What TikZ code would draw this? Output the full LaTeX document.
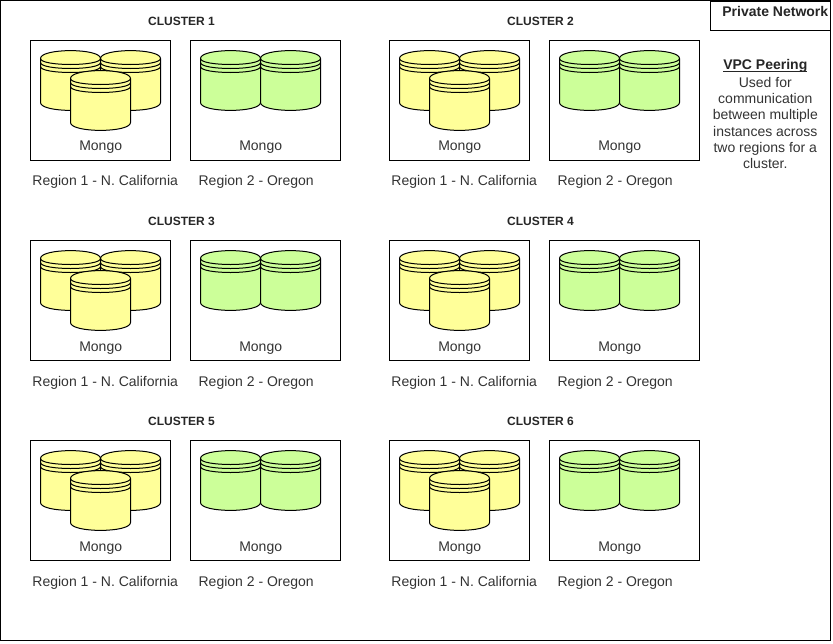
\documentclass[tikz,border=0pt]{standalone}
\usepackage{fontspec}
\setmainfont{Liberation Sans}
\definecolor{replicaYellow}{HTML}{FFFF99}
\definecolor{replicaGreen}{HTML}{CCFF99}
\definecolor{labelGray}{HTML}{333333}
\tikzset{
    regionbox/.style={draw=black, line width=1pt, minimum height=120pt, inner sep=0pt},
    mongolabel/.style={text=labelGray, font=\fontsize{14}{16}\selectfont, inner sep=0pt},
    clustertitle/.style={text=black!85, font=\fontsize{12}{14}\selectfont\bfseries, inner sep=0pt},
    datastore/.pic={
        \path[pic actions] (0,8) .. controls (0,-2.5) and (60,-2.5) .. (60,8)
            -- (60,52) .. controls (60,62.5) and (0,62.5) .. (0,52) -- cycle;
        \foreach \lineY in {8,12,16} {
            \draw (0,\lineY) .. controls (0,\lineY+8) and (60,\lineY+8) .. (60,\lineY);
        }
    },
}
\begin{document}
\begin{tikzpicture}[x=1pt, y=-1pt, line width=1pt]
\useasboundingbox (0,0) rectangle (833,643);
\draw[line width=1pt] (0.5,0.5) rectangle (830,640);

% private network legend
\node[draw=black, line width=1pt, minimum width=120pt, minimum height=29.5pt, inner sep=0pt, anchor=north west] (legend) at (710,0.5) {};
\node[clustertitle, font=\fontsize{14}{16}\selectfont\bfseries] (legendTitle) at (775.3,11.5) {Private Network};
\node[clustertitle, font=\fontsize{14}{16}\selectfont\bfseries, anchor=base] (peeringTitle) at (765.3,69.5) {\underline{\smash{VPC Peering}}};
\node[mongolabel, align=center, font=\fontsize{14}{16.3}\selectfont] (peeringText) at (765.3,123) {Used for\\communication\\between multiple\\instances across\\two regions for a\\cluster.};

% one cluster per grid cell
\foreach \clusterNum/\dx/\dy/\textY in {1/0/0/147, 2/359/0/147, 3/0/200/148, 4/359/200/148, 5/0/400/148, 6/359/400/148} {
    \begin{scope}[shift={(\dx,\dy)}]
    \node[clustertitle] (title\clusterNum) at (181.5,21) {CLUSTER \clusterNum};
    \node[regionbox, minimum width=140pt] (north\clusterNum) at (100.5,100.5) {};
    \node[regionbox, minimum width=150pt] (south\clusterNum) at (265.5,100.5) {};
    \pic[draw=black, fill=replicaYellow] at (40.5,50.5) {datastore};
    \pic[draw=black, fill=replicaYellow] at (100.5,50.5) {datastore};
    \pic[draw=black, fill=replicaYellow] at (70.5,70.5) {datastore};
    \pic[draw=black, fill=replicaGreen] at (200.5,50.5) {datastore};
    \pic[draw=black, fill=replicaGreen] at (260.5,50.5) {datastore};
    \node[mongolabel] (mongoN\clusterNum) at (100.7,\textY) {Mongo};
    \node[mongolabel] (mongoS\clusterNum) at (260.7,\textY) {Mongo};
    \node[mongolabel] (regionN\clusterNum) at (105.2,\textY+35) {Region 1 - N. California};
    \node[mongolabel] (regionS\clusterNum) at (256.2,\textY+35) {Region 2 - Oregon};
    \end{scope}
}
\end{tikzpicture}
\end{document}
